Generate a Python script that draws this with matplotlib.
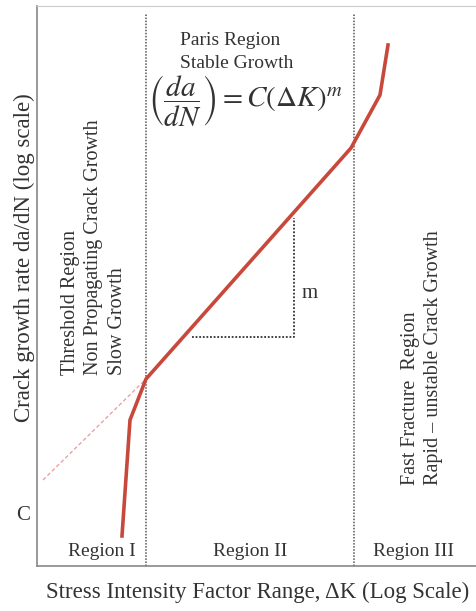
import matplotlib.pyplot as plt

plt.rcParams['font.family'] = ['Liberation Serif', 'DejaVu Serif']
plt.rcParams['mathtext.fontset'] = 'stix'

# schematic coordinates (log dK, log da/dN), arbitrary units
curve_x = [85, 93, 109, 314, 343, 351]
curve_y = [30, 146, 187, 418, 471, 521]
extrap_x = [6, 109]
extrap_y = [86, 187]
region_bounds = [109, 317]
slope_x = [155, 257, 257]
slope_y = [229, 229, 348]
region_labels = ["Region I", "Region II", "Region III"]
region_label_x = [65, 213, 377]

TEXT = '#333333'
RED = '#c9483c'

fig = plt.figure(figsize=(4.77, 6.11), dpi=100)
ax = fig.add_axes([37 / 477, 45 / 611, 440 / 477, 560 / 611])
ax.set_xlim(0, 440)
ax.set_ylim(0, 560)

for s in ['left', 'bottom']:
    ax.spines[s].set_color('#888888')
    ax.spines[s].set_linewidth(1.2)
ax.spines['top'].set_color('#cccccc')
ax.spines['right'].set_visible(False)
ax.set_xticks([])
ax.set_yticks([])

for b in region_bounds:
    ax.axvline(b, ymax=0.985, color='#555555', lw=1.1, ls=(0, (1, 1)))

ax.plot(extrap_x, extrap_y, color='#e79a9a', lw=0.9, ls=(0, (3, 2)))
ax.plot(curve_x, curve_y, color=RED, lw=2.6, solid_joinstyle='miter')
ax.plot(slope_x, slope_y, color='#333333', lw=1.3, ls=(0, (1, 1)))
ax.text(265, 272, "m", fontsize=15, color=TEXT, ha='left', va='center')

for lab, lx in zip(region_labels, region_label_x):
    ax.text(lx, 14, lab, fontsize=14, color=TEXT, ha='center', va='center')

ax.text(143, 514, "Paris Region\nStable Growth", fontsize=14, color=TEXT,
        ha='left', va='center', linespacing=1.4)
ax.text(208, 465, r'$\left(\dfrac{da}{dN}\right) = C\left(\Delta K\right)^{m}$',
        fontsize=21, color=TEXT, ha='center', va='center')

ax.text(57, 191, "Threshold Region\nNon Propagating Crack Growth\nSlow Growth",
        fontsize=14.5, color=TEXT, rotation=90, rotation_mode='anchor',
        ha='left', va='center', linespacing=1.35, multialignment='left')
ax.text(385, 81, "Fast Fracture  Region\nRapid \u2013 unstable Crack Growth",
        fontsize=14.5, color=TEXT, rotation=90, rotation_mode='anchor',
        ha='left', va='center', linespacing=1.35, multialignment='left')

ax.text(-14, 50, "C", fontsize=15, color=TEXT, ha='center', va='center')
ax.set_ylabel("Crack growth rate da/dN (log scale)", fontsize=16.5,
              color=TEXT, va='center')
ax.yaxis.set_label_coords((24 - 37) / 440, (566 - 258) / 560)
ax.set_xlabel("Stress Intensity Factor Range, \u0394K (Log Scale)",
              fontsize=16.5, color=TEXT, va='center')
ax.xaxis.set_label_coords((258 - 37) / 440, (566 - 592) / 560)

fig.savefig("out.png", dpi=100)
